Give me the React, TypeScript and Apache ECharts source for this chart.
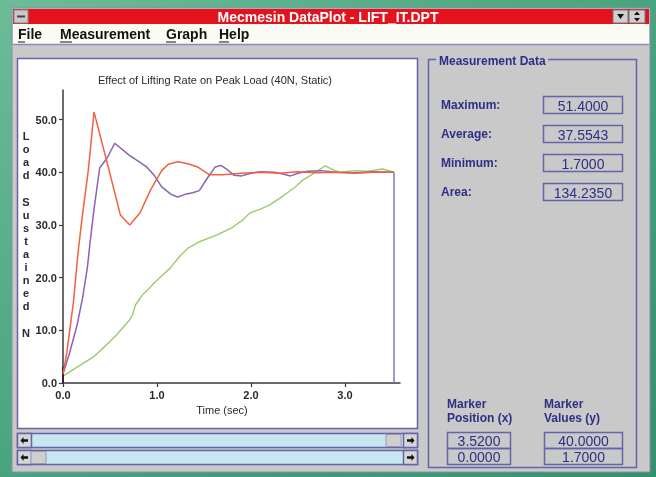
import React, { useEffect, useRef } from "react";
import * as echarts from "echarts";

// ---- data ----
const fastTime = [0, 0.04, 0.11, 0.16, 0.2, 0.27, 0.33, 0.47, 0.61, 0.71, 0.82, 0.93, 1.05, 1.12, 1.22, 1.33, 1.43, 1.56, 1.7, 1.9, 2.1, 2.3, 2.5, 2.7, 2.9, 3.1, 3.3, 3.52];
const fastLoad = [1.7, 5.7, 15.2, 24.7, 30.9, 40.5, 51.4, 41.8, 31.9, 30.0, 32.3, 36.6, 40.3, 41.5, 42.0, 41.6, 41.0, 39.5, 39.5, 39.8, 40.0, 39.8, 40.1, 39.9, 40.0, 39.8, 40.0, 40.0];

const midTime = [0, 0.07, 0.15, 0.21, 0.26, 0.29, 0.33, 0.39, 0.47, 0.55, 0.7, 0.89, 0.97, 1.05, 1.15, 1.22, 1.3, 1.38, 1.45, 1.54, 1.62, 1.68, 1.74, 1.82, 1.9, 2.0, 2.1, 2.25, 2.35, 2.42, 2.5, 2.6, 2.75, 2.9, 3.1, 3.3, 3.52];
const midLoad = [1.7, 5.7, 11.0, 16.3, 22.0, 27.0, 33.0, 40.8, 42.7, 45.5, 43.3, 41.0, 39.4, 37.2, 35.8, 35.3, 35.8, 36.1, 36.5, 39.0, 41.0, 41.3, 40.6, 39.4, 39.3, 39.8, 40.1, 40.0, 39.6, 39.3, 39.8, 40.2, 40.3, 40.0, 39.9, 40.1, 40.0];

const slowTime = [0, 0.15, 0.32, 0.45, 0.57, 0.66, 0.71, 0.74, 0.77, 0.85, 0.93, 1.0, 1.14, 1.24, 1.33, 1.45, 1.64, 1.8, 1.91, 1.99, 2.1, 2.2, 2.3, 2.38, 2.47, 2.55, 2.65, 2.79, 2.88, 2.95, 3.1, 3.25, 3.4, 3.52];
const slowLoad = [1.3, 3.0, 4.9, 7.0, 9.1, 11.0, 12.0, 13.0, 14.8, 16.8, 18.2, 19.5, 21.8, 24.0, 25.6, 26.8, 28.1, 29.5, 30.9, 32.3, 33.0, 33.8, 35.0, 36.0, 37.2, 38.5, 39.6, 41.2, 40.4, 40.0, 40.3, 40.2, 40.6, 40.0];

const xTicks = [0, 1, 2, 3];
const yTicks = [0, 10, 20, 30, 40, 50];

const chartTitle = "Effect of Lifting Rate on Peak Load (40N, Static)";
const xAxisName = "Time (sec)";
const yAxisName = "Load Sustained N";
const windowTitle = "Mecmesin DataPlot - LIFT_IT.DPT";
const menuItems = ["File", "Measurement", "Graph", "Help"];
const statLabels = ["Maximum:", "Average:", "Minimum:", "Area:"];
const statValues = ["51.4000", "37.5543", "1.7000", "134.2350"];
const markerPositions = ["3.5200", "0.0000"];
const markerValues = ["40.0000", "1.7000"];
const markerTime = 3.52;
const markerLoad = 40;
const marker2Time = 0;
const marker2Load = 1.7;

const FONT = "'Liberation Sans', Arial, sans-serif";
const BLUE = "#2e2e86";
const BORDER = "#6464a8";
const GRAY = "#c9c9c9";

function rect(x: number, y: number, w: number, h: number, fill: string, stroke?: string, lw = 1, z = 0): any {
  return {
    type: "rect",
    z,
    shape: { x, y, width: w, height: h },
    style: { fill, stroke: stroke || "none", lineWidth: stroke ? lw : 0 },
  };
}
function txt(x: number, y: number, s: string, o: any = {}): any {
  return {
    type: "text",
    z: o.z ?? 5,
    x,
    y,
    style: {
      text: s,
      fill: o.fill ?? "#222",
      font: `${o.weight ?? "normal"} ${o.size ?? 11}px ${o.family ?? FONT}`,
      textAlign: o.align ?? "left",
      textVerticalAlign: "middle",
    },
  };
}
function ln(x1: number, y1: number, x2: number, y2: number, stroke: string, lw = 1, z = 1): any {
  return { type: "line", z, shape: { x1, y1, x2, y2 }, style: { stroke, lineWidth: lw } };
}
function leftArrow(cx: number, cy: number): any {
  return {
    type: "polygon",
    z: 3,
    shape: { points: [[cx - 4, cy], [cx - 1, cy - 3.5], [cx - 1, cy - 1.2], [cx + 3.5, cy - 1.2], [cx + 3.5, cy + 1.2], [cx - 1, cy + 1.2], [cx - 1, cy + 3.5]] },
    style: { fill: "#111" },
  };
}
function rightArrow(cx: number, cy: number): any {
  return {
    type: "polygon",
    z: 3,
    shape: { points: [[cx + 4, cy], [cx + 1, cy - 3.5], [cx + 1, cy - 1.2], [cx - 3.5, cy - 1.2], [cx - 3.5, cy + 1.2], [cx + 1, cy + 1.2], [cx + 1, cy + 3.5]] },
    style: { fill: "#111" },
  };
}

function buildGraphics(): any[] {
  const g: any[] = [];
  // background (desktop)
  g.push({
    type: "rect",
    z: -10,
    shape: { x: 0, y: 0, width: 656, height: 477 },
    style: {
      fill: new echarts.graphic.LinearGradient(0, 0, 1, 1, [
        { offset: 0, color: "#6cbc98" },
        { offset: 0.5, color: "#48a47f" },
        { offset: 1, color: "#35906b" },
      ]),
    },
  });
  // window body
  g.push(rect(12, 8, 638, 464, GRAY, "#8c8cb0", 1, -5));
  // title bar
  g.push(rect(13, 9, 636, 15, "#e3121c", undefined, 0, -4));
  g.push(rect(14, 10, 14, 13, "#c8c8c8", "#888", 1, -3));
  g.push(ln(17, 16.5, 25, 16.5, "#444", 2, -2));
  g.push(txt(328, 16.5, windowTitle, { fill: "#fff", weight: "bold", size: 14, align: "center" }));
  g.push(rect(613, 10, 15, 13, "#d0d0d0", "#777", 1, -3));
  g.push(rect(629, 10, 16, 13, "#d0d0d0", "#777", 1, -3));
  g.push({ type: "polygon", z: 3, shape: { points: [[617, 14], [624, 14], [620.5, 19]] }, style: { fill: "#111" } });
  g.push({ type: "polygon", z: 3, shape: { points: [[634, 15], [640, 15], [637, 11.5]] }, style: { fill: "#111" } });
  g.push({ type: "polygon", z: 3, shape: { points: [[634, 18], [640, 18], [637, 21.5]] }, style: { fill: "#111" } });
  // menu bar
  g.push(rect(13, 24, 636, 20, "#fbfbf4", undefined, 0, -4));
  g.push(ln(13, 44.5, 649, 44.5, "#8c8cc0", 1.5, -3));
  const menuX = [18, 60, 166, 219];
  const underlineW = [7, 12, 10, 10];
  menuItems.forEach((m, i) => {
    g.push(txt(menuX[i], 34, m, { weight: "bold", size: 14, fill: "#111" }));
    g.push(ln(menuX[i], 42, menuX[i] + underlineW[i], 42, "#111", 1, 4));
  });
  // chart panel
  g.push(rect(17.5, 58.5, 400, 370, "#ffffff", BORDER, 1.5, -3));
  g.push(txt(215, 80, chartTitle, { size: 11, align: "center", fill: "#2a2a2a" }));
  g.push(txt(222, 410, xAxisName, { size: 11, align: "center", fill: "#2a2a2a" }));
  // vertical y-axis name, letters stacked
  const letters = yAxisName.split("");
  letters.forEach((ch, i) => {
    if (ch !== " ") g.push(txt(26, 136 + i * 13.1, ch, { size: 11, align: "center", fill: "#2a2a2a", weight: "bold" }));
  });
  // scrollbars
  const bars = [
    { y: 433, thumb: 386 },
    { y: 450, thumb: 31 },
  ];
  bars.forEach((b) => {
    g.push(rect(17.5, b.y + 0.5, 400, 14, "#c6e7f1", BORDER, 1.5, -2));
    g.push(rect(17.5, b.y + 0.5, 14, 14, "#d6d6d6", BORDER, 1.5, -1));
    g.push(rect(403.5, b.y + 0.5, 14, 14, "#d6d6d6", BORDER, 1.5, -1));
    g.push(leftArrow(24.5, b.y + 7.5));
    g.push(rightArrow(410.5, b.y + 7.5));
    g.push(rect(b.thumb, b.y + 1.5, 15, 12, "#cfcfcf", "#9a9ab0", 1, 0));
  });
  // measurement group box
  g.push(rect(428.5, 59.5, 208, 408, "none", BORDER, 1.5, -2));
  g.push(rect(436, 52, 112, 14, GRAY, undefined, 0, -1));
  g.push(txt(439, 61, "Measurement Data", { weight: "bold", size: 12, fill: BLUE }));
  const statY = [105, 134, 163, 192];
  statLabels.forEach((s, i) => {
    g.push(txt(441, statY[i], s, { weight: "bold", size: 12, fill: BLUE }));
    g.push(rect(543.5, statY[i] - 8.5, 79, 17, "none", BORDER, 1.5, 0));
    g.push(txt(583, statY[i] + 0.5, statValues[i], { size: 14, align: "center", fill: BLUE }));
  });
  g.push(txt(447, 404, "Marker", { weight: "bold", size: 12, fill: BLUE }));
  g.push(txt(447, 418, "Position (x)", { weight: "bold", size: 12, fill: BLUE }));
  g.push(txt(544, 404, "Marker", { weight: "bold", size: 12, fill: BLUE }));
  g.push(txt(544, 418, "Values (y)", { weight: "bold", size: 12, fill: BLUE }));
  markerPositions.forEach((p, i) => {
    g.push(rect(447.5, 432.5 + i * 16, 63, 16, "none", BORDER, 1.5, 0));
    g.push(txt(479, 441 + i * 16, p, { size: 14, align: "center", fill: BLUE }));
  });
  markerValues.forEach((p, i) => {
    g.push(rect(544.5, 432.5 + i * 16, 78, 16, "none", BORDER, 1.5, 0));
    g.push(txt(583.5, 441 + i * 16, p, { size: 14, align: "center", fill: BLUE }));
  });
  return g;
}

function pairs(t: number[], v: number[]) {
  return t.map((x, i) => [x, v[i]]);
}

export default function App() {
  const ref = useRef<HTMLDivElement>(null);
  useEffect(() => {
    if (!ref.current) return;
    const chart = echarts.init(ref.current, undefined, { renderer: "svg" });
    const axisColor = "#3a3a3a";
    chart.setOption({
      animation: false,
      backgroundColor: "transparent",
      grid: { left: 63, top: 90, width: 337, height: 293, containLabel: false },
      xAxis: {
        type: "value",
        min: 0,
        max: 3.585,
        interval: 1,
        splitLine: { show: false },
        axisLine: { show: true, onZero: false, lineStyle: { color: axisColor, width: 1.5 } },
        axisTick: { show: true, length: 4, lineStyle: { color: axisColor, width: 1.2 }, customValues: xTicks },
        axisLabel: {
          customValues: xTicks,
          margin: 6,
          color: "#2a2a2a",
          fontSize: 11,
          fontFamily: FONT,
          fontWeight: "bold",
          formatter: (v: number) => (Number.isInteger(v) ? v.toFixed(1) : ""),
        },
      },
      yAxis: {
        type: "value",
        min: 0,
        max: 55.6,
        interval: 10,
        splitLine: { show: false },
        axisLine: { show: true, onZero: false, lineStyle: { color: axisColor, width: 1.5 } },
        axisTick: { show: true, length: 4, lineStyle: { color: axisColor, width: 1.2 }, customValues: yTicks },
        axisLabel: {
          customValues: yTicks,
          margin: 6,
          color: "#2a2a2a",
          fontSize: 11,
          fontFamily: FONT,
          fontWeight: "bold",
          formatter: (v: number) => (v % 10 === 0 ? v.toFixed(1) : ""),
        },
      },
      graphic: { elements: buildGraphics() },
      series: [
        {
          type: "line",
          name: "slow",
          data: pairs(slowTime, slowLoad),
          showSymbol: false,
          lineStyle: { color: "#9ccb6c", width: 1.4 },
          z: 3,
        },
        {
          type: "line",
          name: "mid",
          data: pairs(midTime, midLoad),
          showSymbol: false,
          lineStyle: { color: "#8a62b6", width: 1.5 },
          z: 4,
          markLine: {
            symbol: "none",
            silent: true,
            label: { show: false },
            lineStyle: { color: "#7a7acc", width: 1.5, type: "solid" },
            data: [
              [{ coord: [markerTime, 0] }, { coord: [markerTime, markerLoad] }],
            ],
          },
        },
        {
          type: "line",
          name: "fast",
          data: pairs(fastTime, fastLoad),
          showSymbol: false,
          lineStyle: { color: "#f2613f", width: 1.5 },
          z: 5,
          markLine: {
            symbol: "none",
            silent: true,
            label: { show: false },
            lineStyle: { color: "#3a2040", width: 2, type: "solid" },
            data: [
              [{ coord: [marker2Time, 0] }, { coord: [marker2Time, marker2Load + 1.5] }],
            ],
          },
        },
      ],
    });
    return () => chart.dispose();
  }, []);
  return (
    <div
      ref={ref}
      style={{ position: "fixed", left: 0, top: 0, width: 656, height: 477 }}
    />
  );
}
